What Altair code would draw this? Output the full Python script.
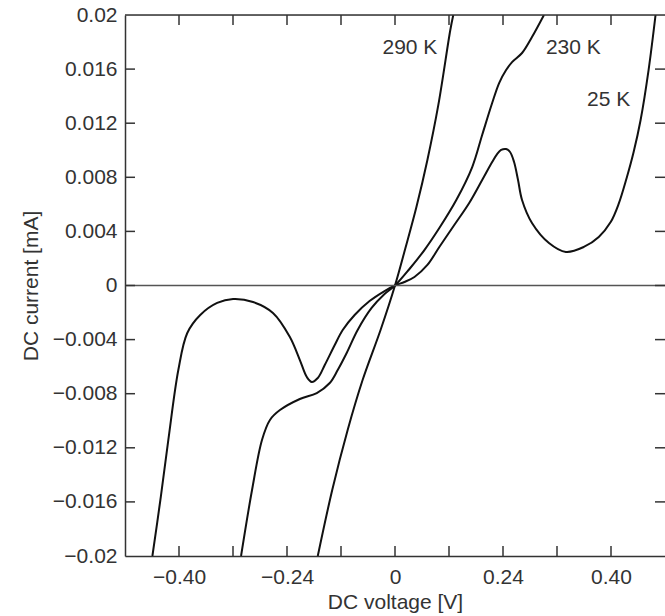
import json
import altair as alt
import pandas as pd

# ---- data (voltage [V], current [mA]) ----
v_25k = [-0.5391, -0.5214, -0.5037, -0.4815, -0.4616, -0.4328, -0.3952, -0.3598, -0.3155,
         -0.2712, -0.2336, -0.2114, -0.1959, -0.1849, -0.1716, -0.1561, -0.1339, -0.1162,
         -0.0897, -0.0565, -0.0232, 0.0, 0.0210, 0.0432, 0.0720, 0.0985, 0.1317, 0.1649,
         0.1937, 0.2159, 0.2269, 0.2358, 0.2469, 0.2557, 0.2646, 0.2734, 0.2823, 0.3044,
         0.3421, 0.3797, 0.4196, 0.4528, 0.4793, 0.4970, 0.5148, 0.5303, 0.5458, 0.5635, 0.5790]
i_25k = [-0.0200, -0.01586, -0.01142, -0.00625, -0.00351, -0.00218, -0.00129, -0.00100, -0.00122,
         -0.00203, -0.00381, -0.00551, -0.00677, -0.00713, -0.00684, -0.00588, -0.00440, -0.00329,
         -0.00218, -0.00115, -0.00041, 0.0, 0.00026, 0.00063, 0.00152, 0.00285, 0.00447, 0.00610,
         0.00780, 0.00913, 0.00972, 0.01002, 0.01009, 0.00987, 0.00913, 0.00780, 0.00632, 0.00462,
         0.00314, 0.00248, 0.00285, 0.00359, 0.00469, 0.00603, 0.00795, 0.00987, 0.01224, 0.01593, 0.0200]

v_230k = [-0.3421, -0.3177, -0.2956, -0.2779, -0.2557, -0.2114, -0.1738, -0.1450, -0.1273,
          -0.1074, -0.0830, -0.0520, -0.0232, 0.0, 0.0321, 0.0653, 0.0985, 0.1362, 0.1716,
          0.1937, 0.2159, 0.2314, 0.2469, 0.2601, 0.2823, 0.3044, 0.3310]
i_230k = [-0.0200, -0.01512, -0.01142, -0.00994, -0.00921, -0.00839, -0.00795, -0.00721, -0.00625,
          -0.00499, -0.00329, -0.00166, -0.00063, 0.0, 0.00122, 0.00262, 0.00425, 0.00632, 0.00876,
          0.01113, 0.01349, 0.01497, 0.01593, 0.01652, 0.01719, 0.01837, 0.0200]

v_290k = [-0.1716, -0.1395, -0.1052, -0.0720, -0.0321, 0.0, 0.0232, 0.0476, 0.0720, 0.0963,
          0.1229, 0.1295]
i_290k = [-0.0200, -0.01512, -0.01068, -0.00699, -0.00329, 0.0, 0.00277, 0.00580, 0.00928,
          0.01335, 0.01889, 0.0200]

curve_names = ["25 K", "230 K", "290 K"]
label_v = [0.4749, 0.3963, 0.0332]
label_i = [0.01372, 0.01756, 0.01756]

x_domain = [-0.6, 0.6]
y_domain = [-0.02, 0.02]
x_label_values = [-0.48, -0.24, 0, 0.24, 0.48]
x_label_texts = ["\u22120.40", "\u22120.24", "0", "0.24", "0.40"]
x_minor = [-0.48, -0.36, -0.24, -0.12, 0, 0.12, 0.24, 0.36, 0.48]
y_label_values = [0.02, 0.016, 0.012, 0.008, 0.004, 0, -0.004, -0.008, -0.012, -0.016, -0.02]
y_minor = [0.016, 0.012, 0.008, 0.004, 0, -0.004, -0.008, -0.012, -0.016]

# ---- tables ----
rows = []
for name, vs, cs in [("25 K", v_25k, i_25k), ("230 K", v_230k, i_230k), ("290 K", v_290k, i_290k)]:
    for k, (v, c) in enumerate(zip(vs, cs)):
        rows.append({"T": name, "V": v, "I": c, "k": k})
curves = pd.DataFrame(rows)
labels = pd.DataFrame({"T": curve_names, "V": label_v, "I": label_i})
xt = pd.DataFrame({"V": x_minor})
yt = pd.DataFrame({"I": y_minor})
zero = pd.DataFrame({"I": [0.0]})
top = pd.DataFrame({"I": [y_domain[1]]})

W, H = 540, 541
FONT = "Liberation Sans, Arial, Helvetica, sans-serif"
FS = 21
AX = "#333333"
TICK = 10

xs = alt.Scale(domain=x_domain, nice=False, zero=False)
ys = alt.Scale(domain=y_domain, nice=False, zero=False)

x_expr = "%s[indexof(%s, datum.value)]" % (json.dumps(x_label_texts, ensure_ascii=False),
                                           json.dumps(x_label_values))

line_layer = alt.Chart(curves).mark_line(
    interpolate="catmull-rom", color="#111111", strokeWidth=2, clip=True
).encode(
    x=alt.X("V:Q", scale=xs, axis=alt.Axis(
        orient="bottom", values=x_label_values, labelExpr=x_expr, ticks=False, tickSize=0,
        grid=False, domainColor=AX, domainWidth=1.5, labelPadding=10,
        labelFont=FONT, labelFontSize=FS, labelColor=AX,
        title="DC voltage [V]", titleFont=FONT, titleFontSize=FS, titleFontWeight="normal",
        titleColor=AX, titleX=W / 2, titleY=52, titleBaseline="alphabetic", titleAlign="center")),
    y=alt.Y("I:Q", scale=ys, axis=alt.Axis(
        orient="left", values=y_label_values, format="~g", ticks=False, tickSize=0,
        grid=False, domainColor=AX, domainWidth=1.5, labelPadding=8,
        labelFont=FONT, labelFontSize=FS, labelColor=AX,
        title="DC current [mA]", titleFont=FONT, titleFontSize=FS, titleFontWeight="normal",
        titleColor=AX, titleX=-88, titleY=H / 2, titleAngle=270, titleBaseline="alphabetic",
        titleAlign="center")),
    detail="T:N",
    order="k:Q",
)

zero_layer = alt.Chart(zero).mark_rule(color="#555555", strokeWidth=1.5).encode(
    y=alt.Y("I:Q", scale=ys, axis=None)
)
top_layer = alt.Chart(top).mark_rule(color=AX, strokeWidth=1.5).encode(
    y=alt.Y("I:Q", scale=ys, axis=None)
)
bottom_ticks = alt.Chart(xt).mark_rule(color=AX, strokeWidth=1.5).encode(
    x=alt.X("V:Q", scale=xs, axis=None), y=alt.value(H - TICK), y2=alt.value(H)
)
top_ticks = alt.Chart(xt).mark_rule(color=AX, strokeWidth=1.5).encode(
    x=alt.X("V:Q", scale=xs, axis=None), y=alt.value(0), y2=alt.value(TICK)
)
left_ticks = alt.Chart(yt).mark_rule(color=AX, strokeWidth=1.5).encode(
    y=alt.Y("I:Q", scale=ys, axis=None), x=alt.value(0), x2=alt.value(TICK)
)
right_ticks = alt.Chart(yt).mark_rule(color=AX, strokeWidth=1.5).encode(
    y=alt.Y("I:Q", scale=ys, axis=None), x=alt.value(W - TICK), x2=alt.value(W)
)

text_layer = alt.Chart(labels).mark_text(
    font=FONT, fontSize=FS, color=AX, align="center", baseline="middle"
).encode(
    x=alt.X("V:Q", scale=xs, axis=None),
    y=alt.Y("I:Q", scale=ys, axis=None),
    text="T:N",
)

chart = alt.layer(
    line_layer, zero_layer, top_layer, bottom_ticks, top_ticks, left_ticks, right_ticks, text_layer
).resolve_axis(x="independent", y="independent").properties(
    width=W, height=H,
    autosize=alt.AutoSizeParams(type="none"),
    padding={"left": 125, "top": 15, "right": 0, "bottom": 60},
).configure_view(stroke=None).configure(background="white")

chart.save("out.html", embed_options={"renderer": "svg", "actions": False})
